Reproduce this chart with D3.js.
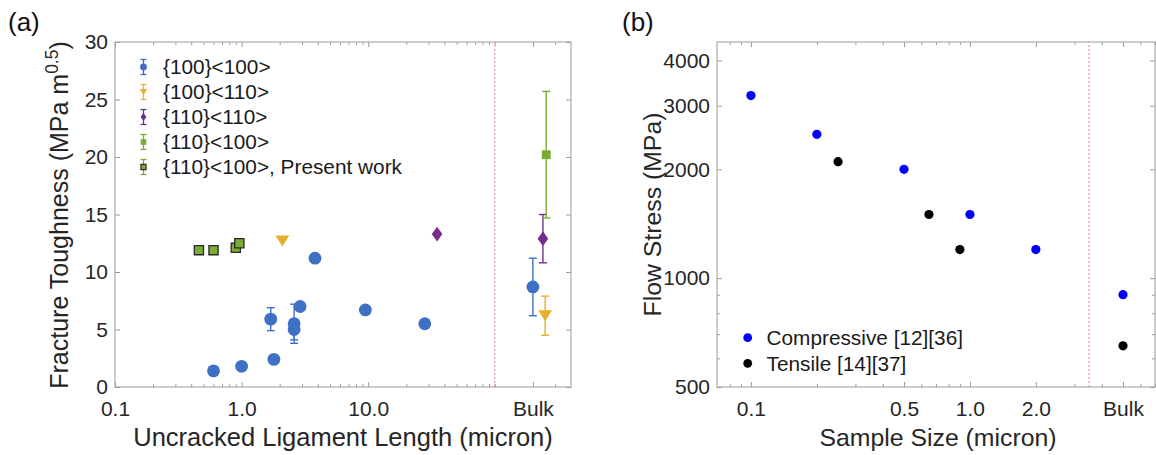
<!DOCTYPE html>
<html>
<head>
<meta charset="utf-8">
<script src="https://cdn.jsdelivr.net/npm/d3@7"></script>
<style>
  html, body { margin: 0; padding: 0; background: #fff; }
  svg { display: block; font-family: "Liberation Sans", Arial, Helvetica, sans-serif; }
</style>
</head>
<body>
<svg id="fig" width="1156" height="455"></svg>
<script>
// ---------- Panel (a): fracture toughness vs. uncracked ligament length ----------
// {100}<100>
const s100_100_x   = [0.6, 1.0, 1.8, 1.7, 2.6, 2.6, 2.9, 3.8, 9.5, 28, 200];
const s100_100_y   = [1.4, 1.8, 2.4, 5.9, 5.5, 5.0, 7.0, 11.2, 6.7, 5.5, 8.7];
const s100_100_err = [0, 0, 0, 1.0, 1.7, 0.9, 0.3, 0, 0.35, 0, 2.5];
// {100}<110>
const s100_110_x   = [2.1, 250];
const s100_110_y   = [12.7, 6.2];
const s100_110_err = [0, 1.7];
// {110}<110>
const s110_110_x   = [35, 240];
const s110_110_y   = [13.3, 12.9];
const s110_110_err = [0, 2.1];
// {110}<100>
const s110_100_x   = [255];
const s110_100_y   = [20.2];
const s110_100_err = [5.5];
// {110}<100>, present work
const present_x    = [0.46, 0.6, 0.9, 0.96];
const present_y    = [11.9, 11.9, 12.1, 12.5];

const aXTicks      = [0.1, 1, 10, 200];
const aXTickLabels = ["0.1", "1.0", "10.0", "Bulk"];
const aXMinor      = [0.2,0.3,0.4,0.5,0.6,0.7,0.8,0.9, 2,3,4,5,6,7,8,9, 20,30,40,50,60,70,80,90, 100, 300];
const aYTicks      = [0, 5, 10, 15, 20, 25, 30];
const aLegend      = ["{100}<100>", "{100}<110>", "{110}<110>", "{110}<100>", "{110}<100>, Present work"];

// ---------- Panel (b): flow stress vs. sample size ----------
const comp_x = [0.1, 0.2, 0.5, 1.0, 2.0, 5];
const comp_y = [3200, 2500, 2000, 1500, 1200, 900];
const tens_x = [0.25, 0.65, 0.9, 5];
const tens_y = [2100, 1500, 1200, 650];

const bXTicks      = [0.1, 0.5, 1, 2, 5];
const bXTickLabels = ["0.1", "0.5", "1.0", "2.0", "Bulk"];
const bXMinor      = [0.08, 0.09, 0.2, 0.3, 0.4, 0.6, 0.7, 0.8, 0.9, 3, 4, 6, 7];
const bYTicks      = [500, 1000, 2000, 3000, 4000];
const bYMinor      = [600, 700, 800, 900];
const bLegend      = ["Compressive [12][36]", "Tensile [14][37]"];

// ---------- styling ----------
const TXT = "#262626", AX = "#9c9c9c";
const C_BLUE = "#3e71c3", C_GOLD = "#e8b028", C_PURPLE = "#742f8c", C_GREEN = "#79ac34";
const TICK_FONT = 21, LEG_FONT = 20.8;

const svg = d3.select("#fig");

function frame(g, x, y, o) {
  const [x0, x1] = x.range(), [y0, y1] = y.range();
  const styleAxis = sel => {
    sel.select(".domain").remove();
    sel.selectAll("line").attr("stroke", AX);
    sel.selectAll("text").attr("fill", TXT).attr("font-size", TICK_FONT);
  };
  // labelled major ticks, drawn inward
  g.append("g").attr("transform", `translate(0,${y0})`)
    .call(d3.axisBottom(x).tickValues(o.xTicks).tickSize(-5).tickSizeOuter(0)
      .tickPadding(14).tickFormat((d, i) => o.xLabels[i])).call(styleAxis);
  g.append("g").attr("transform", `translate(${x0},0)`)
    .call(d3.axisLeft(y).tickValues(o.yTicks).tickSize(-5).tickSizeOuter(0)
      .tickPadding(7).tickFormat(o.yFormat)).call(styleAxis);
  // mirrored ticks on top and right
  g.append("g").attr("transform", `translate(0,${y1})`)
    .call(d3.axisTop(x).tickValues(o.xTicks).tickSize(-5).tickSizeOuter(0).tickFormat(""))
    .call(styleAxis);
  g.append("g").attr("transform", `translate(${x1},0)`)
    .call(d3.axisRight(y).tickValues(o.yTicks).tickSize(-5).tickSizeOuter(0).tickFormat(""))
    .call(styleAxis);
  // minor ticks
  if (o.xMinor) {
    g.append("g").attr("transform", `translate(0,${y0})`)
      .call(d3.axisBottom(x).tickValues(o.xMinor).tickSize(-3).tickSizeOuter(0).tickFormat(""))
      .call(styleAxis);
    g.append("g").attr("transform", `translate(0,${y1})`)
      .call(d3.axisTop(x).tickValues(o.xMinor).tickSize(-3).tickSizeOuter(0).tickFormat(""))
      .call(styleAxis);
  }
  if (o.yMinor) {
    g.append("g").attr("transform", `translate(${x0},0)`)
      .call(d3.axisLeft(y).tickValues(o.yMinor).tickSize(-3).tickSizeOuter(0).tickFormat(""))
      .call(styleAxis);
    g.append("g").attr("transform", `translate(${x1},0)`)
      .call(d3.axisRight(y).tickValues(o.yMinor).tickSize(-3).tickSizeOuter(0).tickFormat(""))
      .call(styleAxis);
  }
  // box
  g.append("rect").attr("x", x0).attr("y", y1).attr("width", x1 - x0).attr("height", y0 - y1)
    .attr("fill", "none").attr("stroke", AX).attr("stroke-width", 1);
}

function divider(g, x, y, v) {
  g.append("line").attr("x1", x(v)).attr("x2", x(v))
    .attr("y1", y.range()[0]).attr("y2", y.range()[1])
    .attr("stroke", "#ee7878").attr("stroke-width", 1).attr("stroke-dasharray", "2,2");
}

// marker shapes
const shapes = {
  circle:   r => d3.symbol().type(d3.symbolCircle).size(Math.PI * r * r)(),
  triDown:  r => `M${-r},${-r * 0.8}L${r},${-r * 0.8}L0,${r * 0.8}Z`,
  diamond:  r => `M0,${-r}L${r * 0.72},0L0,${r}L${-r * 0.72},0Z`,
  square:   r => `M${-r},${-r}H${r}V${r}H${-r}Z`
};

function errorBars(g, x, y, xs, ys, es, color) {
  const cap = 4;
  xs.forEach((xv, i) => {
    const e = es[i];
    if (!e) return;
    const cx = x(xv), ya = y(ys[i] + e), yb = y(ys[i] - e);
    const eg = g.append("g").attr("stroke", color).attr("stroke-width", 1.4).attr("fill", "none");
    eg.append("line").attr("x1", cx).attr("x2", cx).attr("y1", ya).attr("y2", yb);
    eg.append("line").attr("x1", cx - cap).attr("x2", cx + cap).attr("y1", ya).attr("y2", ya);
    eg.append("line").attr("x1", cx - cap).attr("x2", cx + cap).attr("y1", yb).attr("y2", yb);
  });
}

function markers(g, x, y, xs, ys, shape, r, fill, stroke, sw) {
  g.selectAll(null).data(xs.map((xv, i) => [xv, ys[i]])).enter().append("path")
    .attr("d", shapes[shape](r))
    .attr("transform", d => `translate(${x(d[0])},${y(d[1])})`)
    .attr("fill", fill)
    .attr("stroke", stroke || "none").attr("stroke-width", sw || 0);
}

// ================= Panel (a) =================
const gA = svg.append("g");
const xA = d3.scaleLog().domain([0.1, 400]).range([115, 571]);
const yA = d3.scaleLinear().domain([0, 30]).range([387, 42]);

frame(gA, xA, yA, {
  xTicks: aXTicks, xLabels: aXTickLabels, xMinor: aXMinor,
  yTicks: aYTicks, yFormat: d3.format("d")
});
divider(gA, xA, yA, 100);

errorBars(gA, xA, yA, s100_100_x, s100_100_y, s100_100_err, C_BLUE);
errorBars(gA, xA, yA, s100_110_x, s100_110_y, s100_110_err, C_GOLD);
errorBars(gA, xA, yA, s110_110_x, s110_110_y, s110_110_err, C_PURPLE);
errorBars(gA, xA, yA, s110_100_x, s110_100_y, s110_100_err, C_GREEN);

markers(gA, xA, yA, s100_100_x, s100_100_y, "circle", 6.4, C_BLUE);
markers(gA, xA, yA, s100_110_x, s100_110_y, "triDown", 6.9, C_GOLD);
markers(gA, xA, yA, s110_110_x, s110_110_y, "diamond", 7.4, C_PURPLE);
markers(gA, xA, yA, s110_100_x, s110_100_y, "square", 4.4, C_GREEN);
markers(gA, xA, yA, present_x, present_y, "square", 4.6, C_GREEN, "#2a2a2a", 1.3);

// legend (a)
const legA = gA.append("g");
const legAStyle = [
  { c: C_BLUE,   s: "circle",  r: 3.4 },
  { c: C_GOLD,   s: "triDown", r: 3.8 },
  { c: C_PURPLE, s: "diamond", r: 4.0 },
  { c: C_GREEN,  s: "square",  r: 2.8 },
  { c: C_GREEN,  s: "square",  r: 2.6, stroke: "#2a2a2a" }
];
aLegend.forEach((label, i) => {
  const cy = 67 + i * 25, cx = 143.5;
  const st = legAStyle[i];
  const lg = legA.append("g").attr("stroke", st.c).attr("stroke-width", 1.3);
  lg.append("line").attr("x1", cx).attr("x2", cx).attr("y1", cy - 7.5).attr("y2", cy + 7.5);
  lg.append("line").attr("x1", cx - 3).attr("x2", cx + 3).attr("y1", cy - 7.5).attr("y2", cy - 7.5);
  lg.append("line").attr("x1", cx - 3).attr("x2", cx + 3).attr("y1", cy + 7.5).attr("y2", cy + 7.5);
  legA.append("path").attr("d", shapes[st.s](st.r)).attr("transform", `translate(${cx},${cy})`)
    .attr("fill", st.c).attr("stroke", st.stroke || "none").attr("stroke-width", st.stroke ? 1.1 : 0);
  legA.append("text").attr("x", 163).attr("y", cy).attr("dy", "0.36em")
    .attr("font-size", LEG_FONT).attr("fill", "#1a1a1a").text(label);
});

// axis titles (a)
gA.append("text").attr("x", 343).attr("y", 446).attr("text-anchor", "middle")
  .attr("font-size", 25.5).attr("fill", TXT).text("Uncracked Ligament Length (micron)");
const tA = gA.append("text").attr("transform", "translate(68,215) rotate(-90)")
  .attr("text-anchor", "middle").attr("font-size", 25).attr("fill", TXT);
tA.append("tspan").text("Fracture Toughness (MPa m");
tA.append("tspan").attr("font-size", 17.5).attr("dy", -10).text("0.5");
tA.append("tspan").attr("dy", 10).text(")");

gA.append("text").attr("x", 8).attr("y", 31).attr("font-size", 26).attr("fill", "#111").text("(a)");

// ================= Panel (b) =================
const gB = svg.append("g");
const xB = d3.scaleLog().domain([0.07, 7]).range([717, 1155]);
const yB = d3.scaleLog().domain([500, 4500]).range([387, 42]);

frame(gB, xB, yB, {
  xTicks: bXTicks, xLabels: bXTickLabels, xMinor: bXMinor,
  yTicks: bYTicks, yMinor: bYMinor, yFormat: d3.format("d")
});
divider(gB, xB, yB, 3.5);

markers(gB, xB, yB, comp_x, comp_y, "circle", 4.6, "#0000ff");
markers(gB, xB, yB, tens_x, tens_y, "circle", 4.6, "#000000");

// legend (b)
const legB = gB.append("g");
[["#0000ff", 337.7], ["#000000", 363.3]].forEach(([c, cy], i) => {
  legB.append("path").attr("d", shapes.circle(4.4)).attr("transform", `translate(747.7,${cy})`).attr("fill", c);
  legB.append("text").attr("x", 766.5).attr("y", cy).attr("dy", "0.36em")
    .attr("font-size", LEG_FONT).attr("fill", "#1a1a1a").text(bLegend[i]);
});

// axis titles (b)
gB.append("text").attr("x", 938).attr("y", 446).attr("text-anchor", "middle")
  .attr("font-size", 24.8).attr("fill", TXT).text("Sample Size (micron)");
gB.append("text").attr("transform", "translate(661,214.5) rotate(-90)")
  .attr("text-anchor", "middle").attr("font-size", 24.8).attr("fill", TXT).text("Flow Stress (MPa)");

gB.append("text").attr("x", 622).attr("y", 31).attr("font-size", 26).attr("fill", "#111").text("(b)");
</script>
</body>
</html>
